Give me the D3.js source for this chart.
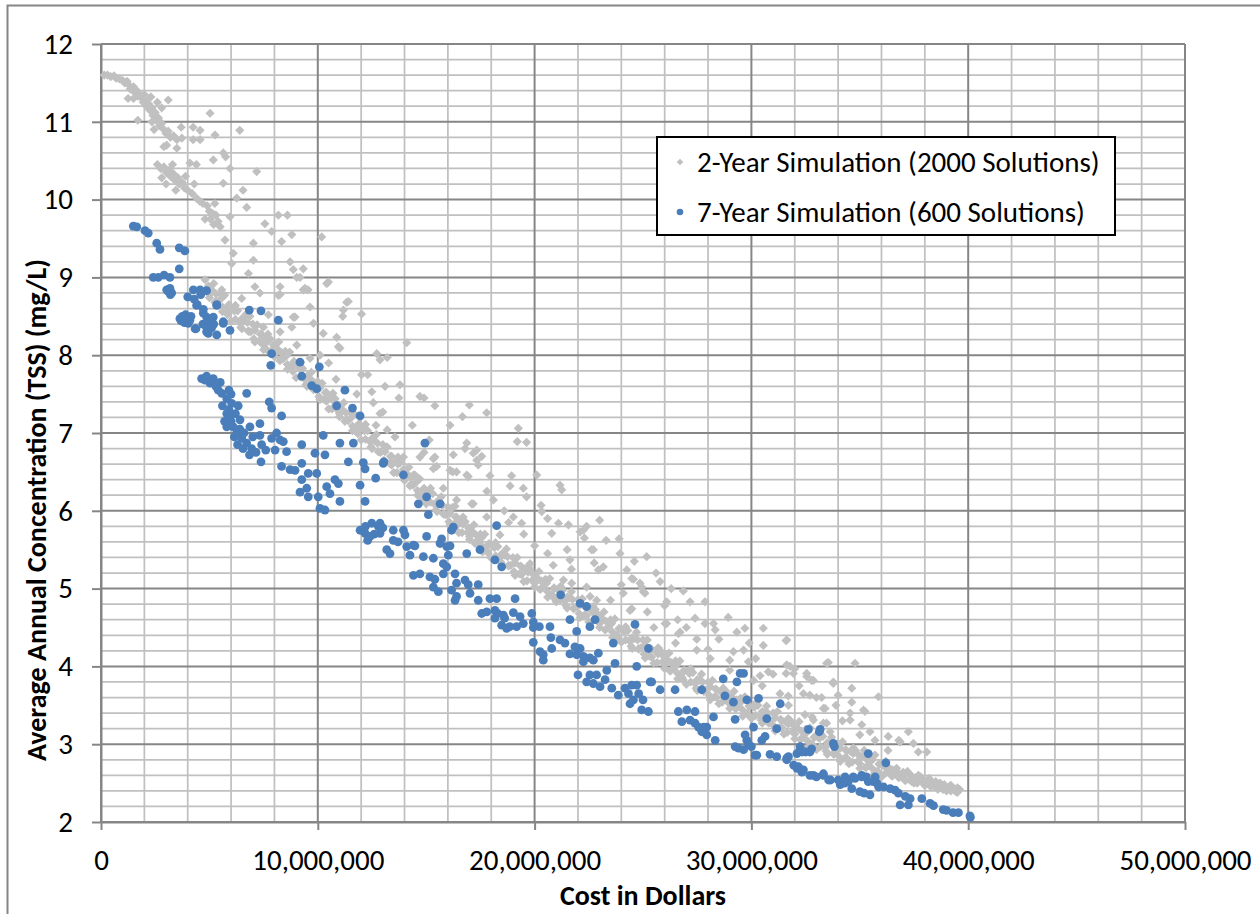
<!DOCTYPE html>
<html>
<head>
<meta charset="utf-8">
<script src="https://cdn.jsdelivr.net/npm/d3@7"></script>
<style>
  body { margin: 0; background: #fff; }
  svg { display: block; }
</style>
</head>
<body>
<svg id="chart" width="1260" height="914"></svg>
<script>
// ---- Axis ticks and labels -------------------------------------------------
const costTicks = [0, 10000000, 20000000, 30000000, 40000000, 50000000];
const concTicks = [2, 3, 4, 5, 6, 7, 8, 9, 10, 11, 12];
const costMinorStep = 2000000;
const concMinorStep = 0.2;
const xTitle = "Cost in Dollars";
const yTitle = "Average Annual Concentration (TSS) (mg/L)";
const seriesNames = ["2-Year Simulation (2000 Solutions)", "7-Year Simulation (600 Solutions)"];

// ---- Solutions: [cost in millions of dollars, concentration mg/L] ---------
// 2-year runs: upper branch near the start of the front
const twoYearHead = [
  [0.15,11.6],[0.3,11.6],[0.45,11.58],[0.6,11.59],[0.7,11.56],[0.85,11.55],[1.0,11.53],[1.1,11.5],[1.2,11.52],[1.3,11.47],
  [1.35,11.42],[1.5,11.45],[1.55,11.38],[1.65,11.4],[1.7,11.33],[1.8,11.35],[1.9,11.3],[1.95,11.25],[2.05,11.28],[2.1,11.2],
  [2.2,11.23],[2.25,11.15],[2.35,11.18],[2.4,11.08],[2.5,11.12],[2.55,11.02],[2.65,11.05],[2.7,10.95],[2.8,10.98],[2.9,10.9],
  [3.0,10.85],[3.1,10.88],[3.2,10.8],[3.35,10.82],[3.5,10.77],[1.25,11.3],[1.7,11.02],[2.35,11.0],[3.1,11.28],[2.0,11.35],
  [2.6,11.25],[1.5,11.3],[2.9,10.68],[3.5,10.66],[3.7,10.93],[3.73,10.79],[4.25,10.93],[4.25,10.77],[4.57,10.89],[4.57,10.77],
  [2.3,11.32],[2.8,11.18],[3.03,10.7],[2.45,10.9],
  [2.6,10.45],[2.75,10.4],[2.9,10.42],[3.0,10.35],[3.15,10.38],[3.2,10.3],[3.35,10.33],[3.4,10.25],[3.55,10.28],[3.6,10.2],
  [3.75,10.22],[3.85,10.15],[4.0,10.12],[3.0,10.2],[3.3,10.45],[2.8,10.28],[4.1,10.47],[4.4,10.45],[4.2,10.08],[4.4,10.02],
  [4.55,9.98],[4.7,9.95],[4.9,9.92],[5.0,9.85],[5.15,9.82],[5.3,9.8],[5.4,9.72],[5.2,9.68],[5.05,9.75],[5.5,9.65],
  [5.95,9.78],[5.64,10.21],[6.26,10.02],[6.55,10.12],[6.72,9.9],[5.95,10.4],[5.18,10.51],[5.64,10.6],[5.75,10.55],[5.03,11.11],
  [5.26,10.83],[6.4,10.89],[7.18,10.36],[7.56,9.69],[7.87,9.59],[8.18,9.8],[8.6,9.8],[8.33,9.46],[8.8,9.55],[10.18,9.52],
  [3.9,10.3],[4.3,10.2],[3.45,10.12],[4.8,9.75],[5.25,9.95]
];

// 2-year runs: main trade-off band
const twoYearBand = [
  [4.8,8.97],[4.9,8.83],[5.0,8.74],[5.1,8.84],[5.2,8.92],[5.3,8.70],[5.4,8.69],[5.5,8.79],[5.6,8.56],[5.7,8.77],
  [5.8,8.56],[5.9,8.65],[6.0,8.44],[6.1,8.59],[6.2,8.64],[6.3,8.57],[6.4,8.43],[6.5,8.34],[6.6,8.45],[6.7,8.53],
  [6.8,8.31],[6.9,8.30],[7.0,8.40],[7.1,8.17],[7.2,8.39],[7.3,8.18],[7.4,8.27],[7.5,8.07],[7.6,8.22],[7.7,8.27],
  [7.8,8.21],[7.9,8.07],[8.0,7.98],[8.1,8.09],[8.2,8.17],[8.3,7.95],[8.4,7.95],[8.5,8.05],[8.6,7.82],[8.7,8.04],
  [8.8,7.83],[8.9,7.92],[9.0,7.71],[9.1,7.86],[9.2,7.91],[9.3,7.83],[9.4,7.69],[9.5,7.60],[9.6,7.70],[9.7,7.78],
  [9.8,7.56],[9.9,7.56],[10.0,7.66],[10.1,7.43],[10.2,7.64],[10.3,7.43],[10.4,7.52],[10.5,7.31],[10.6,7.46],[10.7,7.51],
  [10.8,7.44],[10.9,7.30],[11.0,7.21],[11.1,7.31],[11.2,7.39],[11.3,7.17],[11.4,7.16],[11.5,7.26],[11.6,7.03],[11.7,7.24],
  [11.8,7.03],[11.9,7.12],[12.0,6.91],[12.1,7.06],[12.2,7.11],[12.3,7.03],[12.4,6.89],[12.5,6.80],[12.6,6.90],[12.7,6.98],
  [12.8,6.76],[12.9,6.75],[13.0,6.85],[13.1,6.62],[13.2,6.82],[13.3,6.61],[13.4,6.70],[13.5,6.49],[13.6,6.64],[13.7,6.69],
  [13.8,6.62],[13.9,6.48],[14.0,6.39],[14.1,6.48],[14.2,6.56],[14.3,6.34],[14.4,6.33],[14.5,6.43],[14.6,6.20],[14.7,6.41],
  [14.8,6.20],[14.9,6.29],[15.0,6.09],[15.1,6.24],[15.2,6.29],[15.3,6.22],[15.4,6.08],[15.5,5.99],[15.6,6.10],[15.7,6.18],
  [15.8,5.96],[15.9,5.95],[16.0,6.05],[16.1,5.82],[16.2,6.04],[16.3,5.83],[16.4,5.92],[16.5,5.72],[16.6,5.87],[16.7,5.92],
  [16.8,5.86],[16.9,5.72],[17.0,5.63],[17.1,5.74],[17.2,5.82],[17.3,5.60],[17.4,5.60],[17.5,5.70],[17.6,5.47],[17.7,5.70],
  [17.8,5.49],[17.9,5.58],[18.0,5.39],[18.1,5.54],[18.2,5.59],[18.3,5.54],[18.4,5.40],[18.5,5.31],[18.6,5.43],[18.7,5.51],
  [18.8,5.29],[18.9,5.30],[19.0,5.40],[19.1,5.17],[19.2,5.40],[19.3,5.19],[19.4,5.28],[19.5,5.09],[19.6,5.24],[19.7,5.29],
  [19.8,5.25],[19.9,5.11],[20.0,5.02],[20.1,5.14],[20.2,5.22],[20.3,5.00],[20.4,5.02],[20.5,5.12],[20.6,4.89],[20.7,5.13],
  [20.8,4.92],[20.9,5.01],[21.0,4.83],[21.1,4.98],[21.2,5.03],[21.3,4.98],[21.4,4.84],[21.5,4.75],[21.6,4.88],[21.7,4.96],
  [21.8,4.74],[21.9,4.76],[22.0,4.86],[22.1,4.63],[22.2,4.87],[22.3,4.66],[22.4,4.75],[22.5,4.57],[22.6,4.72],[22.7,4.77],
  [22.8,4.73],[22.9,4.59],[23.0,4.50],[23.1,4.62],[23.2,4.70],[23.3,4.48],[23.4,4.50],[23.5,4.60],[23.6,4.37],[23.7,4.61],
  [23.8,4.40],[23.9,4.49],[24.0,4.31],[24.1,4.46],[24.2,4.51],[24.3,4.46],[24.4,4.32],[24.5,4.23],[24.6,4.36],[24.7,4.44],
  [24.8,4.22],[24.9,4.24],[25.0,4.34],[25.1,4.11],[25.2,4.34],[25.3,4.13],[25.4,4.22],[25.5,4.04],[25.6,4.19],[25.7,4.24],
  [25.8,4.20],[25.9,4.06],[26.0,3.97],[26.1,4.09],[26.2,4.17],[26.3,3.95],[26.4,3.97],[26.5,4.07],[26.6,3.84],[26.7,4.07],
  [26.8,3.86],[26.9,3.95],[27.0,3.77],[27.1,3.92],[27.2,3.97],[27.3,3.92],[27.4,3.78],[27.5,3.69],[27.6,3.82],[27.7,3.90],
  [27.8,3.68],[27.9,3.70],[28.0,3.80],[28.1,3.57],[28.2,3.82],[28.3,3.61],[28.4,3.70],[28.5,3.52],[28.6,3.67],[28.7,3.72],
  [28.8,3.69],[28.9,3.55],[29.0,3.46],[29.1,3.60],[29.2,3.68],[29.3,3.46],[29.4,3.49],[29.5,3.59],[29.6,3.36],[29.7,3.61],
  [29.8,3.40],[29.9,3.49],[30.0,3.33],[30.1,3.48],[30.2,3.53],[30.3,3.50],[30.4,3.36],[30.5,3.27],[30.6,3.41],[30.7,3.49],
  [30.8,3.27],[30.9,3.30],[31.0,3.40],[31.1,3.17],[31.2,3.42],[31.3,3.21],[31.4,3.30],[31.5,3.13],[31.6,3.28],[31.7,3.33],
  [31.8,3.30],[31.9,3.16],[32.0,3.07],[32.1,3.21],[32.2,3.29],[32.3,3.07],[32.4,3.09],[32.5,3.19],[32.6,2.96],[32.7,3.21],
  [32.8,3.00],[32.9,3.09],[33.0,2.93],[33.1,3.08],[33.2,3.13],[33.3,3.10],[33.4,2.96],[33.5,2.87],[33.6,3.01],[33.7,3.09],
  [33.8,2.87],[33.9,2.91],[34.0,3.01],[34.1,2.78],[34.2,3.03],[34.3,2.82],[34.4,2.91],[34.5,2.75],[34.6,2.90],[34.7,2.95],
  [34.8,2.92],[34.9,2.78],[35.0,2.69],[35.1,2.84],[35.2,2.92],[35.3,2.70],[35.4,2.73],[35.5,2.83],[35.6,2.60],[35.7,2.86],
  [35.8,2.65],[35.9,2.74],[36.0,2.58],[36.1,2.73],[36.2,2.78],[36.3,2.71],[36.4,2.64],[36.5,2.59],[36.6,2.66],[36.7,2.69],
  [36.8,2.58],[36.9,2.59],[37.0,2.64],[37.1,2.53],[37.2,2.65],[37.3,2.54],[37.4,2.59],[37.5,2.50],[37.6,2.57],[37.7,2.60],
  [37.8,2.58],[37.9,2.51],[38.0,2.47],[38.1,2.53],[38.2,2.56],[38.3,2.46],[38.4,2.47],[38.5,2.52],[38.6,2.42],[38.7,2.50],
  [38.8,2.43],[38.9,2.46],[39.0,2.40],[39.1,2.45],[39.2,2.47],[39.3,2.44],[39.4,2.40],[39.5,2.38],[39.6,2.42]
];

// 2-year runs: further solutions packed inside the band
const twoYearBandFill = [
  [4.95,8.89],[5.0,8.78],[5.25,8.68],[5.3,8.79],[5.55,8.73],[5.6,8.62],[5.85,8.52],[5.9,8.63],[6.15,8.57],[6.2,8.46],
  [6.45,8.36],[6.5,8.47],[6.75,8.42],[6.8,8.31],[7.05,8.21],[7.1,8.32],[7.35,8.27],[7.4,8.16],[7.65,8.07],[7.7,8.18],
  [7.95,8.13],[8.0,8.02],[8.25,7.93],[8.3,8.04],[8.55,7.99],[8.6,7.88],[8.85,7.79],[8.9,7.90],[9.15,7.83],[9.2,7.72],
  [9.45,7.62],[9.5,7.73],[9.75,7.67],[9.8,7.56],[10.05,7.47],[10.1,7.58],[10.35,7.52],[10.4,7.41],[10.65,7.31],[10.7,7.42],
  [10.95,7.36],[11.0,7.25],[11.25,7.15],[11.3,7.26],[11.55,7.20],[11.6,7.09],[11.85,6.99],[11.9,7.10],[12.15,7.03],[12.2,6.92],
  [12.45,6.82],[12.5,6.93],[12.75,6.87],[12.8,6.76],[13.05,6.65],[13.1,6.76],[13.35,6.70],[13.4,6.59],[13.65,6.49],[13.7,6.60],
  [13.95,6.53],[14.0,6.42],[14.25,6.32],[14.3,6.43],[14.55,6.37],[14.6,6.26],[14.85,6.16],[14.9,6.27],[15.15,6.22],[15.2,6.11],
  [15.45,6.01],[15.5,6.12],[15.75,6.07],[15.8,5.96],[16.05,5.86],[16.1,5.97],[16.35,5.92],[16.4,5.81],[16.65,5.72],[16.7,5.83],
  [16.95,5.78],[17.0,5.67],[17.25,5.58],[17.3,5.69],[17.55,5.65],[17.6,5.54],[17.85,5.46],[17.9,5.57],[18.15,5.53],[18.2,5.42],
  [18.45,5.34],[18.5,5.45],[18.75,5.41],[18.8,5.30],[19.05,5.22],[19.1,5.33],[19.35,5.29],[19.4,5.18],[19.65,5.10],[19.7,5.21],
  [19.95,5.18],[20.0,5.07],[20.25,4.99],[20.3,5.10],[20.55,5.07],[20.6,4.96],[20.85,4.89],[20.9,5.00],[21.15,4.97],[21.2,4.86],
  [21.45,4.78],[21.5,4.89],[21.75,4.86],[21.8,4.75],[22.05,4.68],[22.1,4.79],[22.35,4.76],[22.4,4.65],[22.65,4.58],[22.7,4.69],
  [22.95,4.66],[23.0,4.55],[23.25,4.47],[23.3,4.58],[23.55,4.55],[23.6,4.44],[23.85,4.37],[23.9,4.48],[24.15,4.45],[24.2,4.34],
  [24.45,4.26],[24.5,4.37],[24.75,4.34],[24.8,4.23],[25.05,4.16],[25.1,4.27],[25.35,4.23],[25.4,4.12],[25.65,4.05],[25.7,4.16],
  [25.95,4.13],[26.0,4.02],[26.25,3.94],[26.3,4.05],[26.55,4.02],[26.6,3.91],[26.85,3.83],[26.9,3.94],[27.15,3.91],[27.2,3.80],
  [27.45,3.72],[27.5,3.83],[27.75,3.80],[27.8,3.69],[28.05,3.63],[28.1,3.74],[28.35,3.71],[28.4,3.60],[28.65,3.54],[28.7,3.65],
  [28.95,3.63],[29.0,3.52],[29.25,3.46],[29.3,3.57],[29.55,3.55],[29.6,3.44],[29.85,3.38],[29.9,3.49],[30.15,3.48],[30.2,3.37],
  [30.45,3.31],[30.5,3.42],[30.75,3.40],[30.8,3.29],[31.05,3.23],[31.1,3.34],[31.35,3.32],[31.4,3.21],[31.65,3.15],[31.7,3.26],
  [31.95,3.24],[32.0,3.13],[32.25,3.06],[32.3,3.17],[32.55,3.15],[32.6,3.04],[32.85,2.98],[32.9,3.09],[33.15,3.08],[33.2,2.97],
  [33.45,2.91],[33.5,3.02],[33.75,3.00],[33.8,2.89],[34.05,2.84],[34.1,2.95],[34.35,2.93],[34.4,2.82],[34.65,2.77],[34.7,2.88],
  [34.95,2.86],[35.0,2.75],[35.25,2.70],[35.3,2.81],[35.55,2.79],[35.6,2.68],[35.85,2.64],[35.9,2.75],[36.15,2.71],[36.2,2.63],
  [36.45,2.60],[36.5,2.67],[36.75,2.64],[36.8,2.57],[37.05,2.55],[37.1,2.62],[37.35,2.59],[37.4,2.52],[37.65,2.50],[37.7,2.57],
  [37.95,2.54],[38.0,2.48],[38.25,2.46],[38.3,2.52],[38.55,2.50],[38.6,2.44],[38.85,2.42],[38.9,2.48],[39.15,2.46],[39.2,2.40],
  [39.45,2.39],[39.5,2.44]
];

// 2-year runs: costlier, less efficient solutions above the band
const twoYearSpread = [
  [5.72,9.48],[6.1,9.31],[7.03,9.44],[7.03,9.22],[6.03,9.18],[6.8,9.05],[7.1,8.88],[8.26,8.88],[8.26,8.78],[8.72,9.2],
  [8.87,9.1],[9.03,9.0],[9.33,8.84],[9.55,8.84],[10.49,8.94],[9.33,9.11],[9.18,9.0],[9.41,8.86],[9.64,8.62],[11.33,8.68],
  [11.18,8.58],[11.15,8.5],[12.02,8.53],[11.41,8.69],[10.41,8.92],[8.87,8.49],[10.25,8.28],[10.87,8.23],[9.8,8.41],[8.8,8.36],
  [7.49,8.36],[6.49,8.73],[5.57,8.84],[5.8,8.54],[7.49,8.13],[10.1,8.0],[10.95,8.11],[12.72,8.02],[7.33,8.8],[8.18,8.77],
  [6.87,8.5],[7.72,8.52],[8.95,8.49],[8.26,8.3],[9.03,8.13],[11.02,8.09],[9.64,7.96],[12.87,7.94],[13.2,7.97],[14.1,8.16],
  [12.02,7.75],[12.3,7.75],[10.84,7.69],[13.79,7.62],[13.74,7.45],[12.49,7.53],[14.71,7.47],[14.9,7.45],[15.4,7.35],[16.99,7.36],
  [16.67,7.21],[17.79,7.26],[16.1,7.1],[14.36,7.1],[12.68,7.1],[12.56,7.39],[12.87,7.25],[13.0,7.27],[13.2,7.04],[19.25,7.06],
  [19.2,6.89],[19.63,6.88],[15.14,6.91],[15.4,6.69],[16.25,6.72],[16.79,6.8],[17.17,6.74],[17.56,6.7],[17.4,6.59],[16.22,6.5],
  [17.94,6.45],[18.94,6.45],[20.1,6.46],[14.71,6.69],[14.48,6.46],[15.33,6.54],[13.95,6.69],[13.56,6.95],[13.18,6.82],[17.33,6.78],
  [15.33,6.67],[16.1,6.52],[16.94,6.44],[18.87,6.32],[19.48,6.29],[21.25,6.27],[21.17,6.33],[19.63,6.18],[18.1,6.14],[17.1,6.09],
  [16.33,6.06],[17.79,5.92],[19.02,5.92],[20.33,5.99],[19.4,5.84],[21.1,5.84],[21.56,5.82],[22.1,5.73],[20.79,5.71],[18.4,5.69],
  [22.63,5.50],[23.94,5.45],[25.17,5.41],[21.63,5.37],[19.79,5.32],[20.86,5.30],[23.17,5.28],[24.25,5.24],[21.33,5.11],[21.71,5.07],
  [22.94,5.24],[24.48,5.13],[24.86,5.07],[25.79,5.09],[22.86,4.85],[24.09,4.94],[24.4,4.72],[25.02,4.96],[26.02,4.55],[26.63,4.42],
  [16.87,6.87],[17.33,6.65],[16.87,6.46],[16.4,6.5],[15.48,6.57],[17.17,6.09],[16.4,6.14],[15.79,6.29],[14.41,6.46],[22.25,5.75],
  [22.3,5.65],[22.71,5.50],[22.75,5.33],[24.56,5.12],[24.94,5.02],[22.4,5.02],[22.56,4.90],[25.09,4.94],[24.48,4.74],[26.86,4.97],
  [26.09,4.83],[27.17,4.83],[27.86,4.83],[26.09,4.55],[26.71,4.44],[27.48,4.35],[27.86,4.55],[28.25,4.55],[28.33,4.47],[27.48,4.21],
  [28.93,4.63],[29.64,4.21],[29.17,4.19],[29.33,4.44],[29.7,4.49],[29.86,4.06],[30.55,4.49],[30.55,4.27],[31.63,4.34],[30.78,3.93],
  [30.4,3.88],[30.1,3.82],[31.63,4.02],[31.94,3.91],[32.55,3.91],[32.86,3.82],[33.47,4.04],[33.78,3.80],[31.32,3.65],[31.7,3.62],
  [32.4,3.65],[32.86,3.31],[33.32,3.46],[33.47,3.27],[34.63,3.54],[35.17,3.44],[35.47,3.16],[34.55,3.40],[35.86,3.61],[31.6,4.33],
  [33.55,4.05],[31.78,4.0],[32.0,3.97],[31.6,3.91],[32.55,3.87],[32.78,3.82],[33.78,3.78],[31.71,3.5],[32.7,3.63],[33.24,3.6],
  [34.0,3.63],[33.4,3.46],[34.55,3.31],[35.24,3.42],[35.09,3.25],[36.31,3.10],[36.86,3.03],[37.24,3.16],[37.47,3.01],[37.7,2.90],
  [38.09,2.90],[32.47,3.38],[32.8,3.35],[33.32,3.27],[33.63,3.16],[34.78,4.04],[34.63,3.72],[36.8,3.05],[28.1,4.1],[29.0,3.95],
  [25.5,4.5],[26.5,4.3],[23.5,4.85],[20.0,5.55],[18.8,5.85],[20.6,5.45],[14.9,6.75],[11.8,7.5],[13.1,7.6],[10.5,7.9],
  [20.3,6.07],[20.6,5.9],[23.0,5.88],[22.4,5.8],[23.9,5.64],[23.3,5.62],[24.6,5.35],[25.6,5.2],[26.3,5.0],[26.0,4.78],
  [27.4,4.62],[27.0,4.5],[28.5,4.35],[28.0,4.22],[29.9,4.3],[29.0,4.08],[30.2,4.1],[31.0,3.9],[30.5,3.75],[32.2,3.75],
  [33.0,3.6],[33.9,3.5],[34.2,3.3],[35.0,3.12],[35.7,3.05],[36.3,2.92],[21.5,5.5],[19.5,5.7],[18.6,6.0],[17.8,6.25],
  [21.7,5.25],[24.0,5.05],[25.2,4.7],[26.6,4.6]
];

// 7-year runs
const sevenYearRuns = [
  [1.49,9.66],[1.65,9.65],[2.03,9.6],[2.18,9.57],[2.57,9.44],[2.72,9.36],[3.61,9.38],[3.87,9.34],[3.61,9.11],[2.41,9.0],
  [2.64,9.0],[2.91,9.03],[3.18,9.0],[3.03,8.84],[3.18,8.86],[3.26,8.8],[3.1,8.82],[3.2,8.78],
  [4.0,8.75],[4.26,8.84],[4.57,8.84],[4.87,8.83],[4.44,8.65],[4.72,8.59],[5.34,8.65],[3.8,8.49],[3.95,8.47],[3.64,8.47],
  [4.03,8.41],[4.38,8.34],[4.87,8.49],[5.18,8.49],[4.87,8.36],[4.95,8.28],[5.34,8.26],[5.64,8.43],[5.95,8.32],[6.84,8.58],
  [7.38,8.57],[8.18,8.45],[7.87,8.02],[4.41,8.64],[4.72,8.54],[5.03,8.41],[4.87,8.3],[4.34,8.34],[5.34,8.64],[5.64,8.41],
  [4.1,8.45],[3.75,8.5],[3.7,8.44],[3.85,8.42],[4.15,8.5],[3.9,8.52],[4.6,8.78],[4.3,8.72],[5.1,8.35],[5.2,8.4],[4.7,8.4],
  [7.83,7.87],[9.18,7.91],[9.26,7.73],[9.72,7.61],[9.95,7.57],[10.07,7.85],[11.25,7.55],[10.87,7.35],[11.6,7.32],[11.95,7.22],
  [4.64,7.7],[4.87,7.73],[5.18,7.7],[5.03,7.64],[5.41,7.55],[5.57,7.51],[5.8,7.44],[6.03,7.38],[6.33,7.35],[6.72,7.51],
  [5.8,7.25],[5.95,7.21],[5.8,7.08],[6.1,7.08],[6.41,7.17],[6.26,7.0],[6.49,6.93],[6.72,6.87],[6.95,6.8],[6.87,7.08],
  [7.33,7.12],[7.33,6.97],[7.41,6.85],[7.38,6.63],[7.76,7.4],[7.87,7.32],[8.33,7.22],[7.87,6.93],[8.26,6.91],[8.03,6.78],
  [8.41,6.89],[8.56,6.76],[8.33,6.57],[8.72,6.53],[8.95,6.52],[9.26,6.85],[9.26,6.61],[9.56,6.48],[9.95,6.48],[9.87,6.74],
  [10.33,6.72],[10.25,6.97],[9.26,6.4],[9.18,6.24],[9.49,6.29],[9.56,6.18],[10.02,6.18],[10.41,6.31],[10.79,6.4],[10.95,6.35],
  [10.56,6.22],[11.02,6.12],[10.1,6.03],[10.33,6.01],[11.02,6.87],[11.64,6.87],[11.41,6.63],[12.1,6.62],[12.18,6.54],[11.95,6.33],
  [12.18,6.12],[12.67,6.42],[13.02,6.61],[13.95,6.46],[14.94,6.87],[15.02,6.18],[14.64,6.09],[15.1,5.95],[15.64,6.09],[16.25,5.79],
  [16.17,5.75],[16.87,5.45],[13.05,6.63],[18.25,5.81],
  [5.3,7.6],[5.6,7.35],[5.9,7.3],[6.0,7.15],[6.2,7.25],[5.7,7.15],[6.15,6.95],[6.4,7.05],[6.6,7.0],[6.55,6.8],
  [6.0,7.5],[5.5,7.65],[4.8,7.68],[5.9,7.55],[6.3,6.85],[7.0,6.95],[7.15,6.75],[6.85,6.72],[7.6,6.78],[8.1,7.0],
  [11.95,5.75],[12.18,5.71],[12.49,5.84],[12.79,5.8],[12.41,5.67],[12.87,5.71],[13.48,5.75],[13.95,5.75],[13.48,5.62],[13.18,5.5],
  [13.33,5.45],[14.1,5.54],[14.41,5.56],[14.25,5.43],[15.02,5.67],[14.87,5.41],[15.33,5.39],[15.64,5.58],[15.79,5.32],[15.95,5.54],
  [14.41,5.17],[14.71,5.19],[15.17,5.15],[15.79,5.19],[15.95,5.28],[16.33,5.19],[12.87,5.84],[13.0,5.78],[14.02,5.69],[14.48,5.55],
  [15.71,5.64],[16.1,5.55],[16.02,5.43],[17.48,5.5],[18.17,5.37],[18.48,5.28],[15.4,5.12],[16.4,5.07],[16.79,5.11],[16.94,5.05],
  [17.02,4.94],[17.4,5.05],[15.33,5.02],[15.56,4.96],[16.17,4.98],[16.33,4.85],[16.4,4.9],[17.4,4.85],[17.94,4.87],[18.25,4.87],
  [19.1,4.87],[12.3,5.62],[12.6,5.7],[12.2,5.8],[13.7,5.6],
  [17.56,4.68],[17.79,4.7],[18.17,4.72],[18.3,4.68],[18.17,4.62],[18.56,4.66],[18.62,4.62],[18.48,4.53],[18.71,4.49],[18.85,4.51],
  [19.17,4.51],[19.02,4.69],[19.33,4.64],[19.48,4.55],[19.87,4.68],[19.94,4.57],[19.94,4.5],[20.22,4.51],[20.71,4.51],[19.94,4.31],
  [20.25,4.19],[20.4,4.15],[20.4,4.08],[20.75,4.37],[20.79,4.23],[21.17,4.34],[21.4,4.3],[21.2,4.92],[21.63,4.6],[21.94,4.45],
  [22.1,4.81],[22.4,4.77],[22.79,4.6],[22.55,4.51],[21.86,4.25],[22.1,4.23],[21.63,4.16],[21.94,4.15],[22.25,4.13],[22.55,4.11],
  [22.94,4.17],[22.25,4.06],[22.71,4.08],[23.63,4.3],[23.71,4.04],[24.63,4.54],[24.71,4.0],[25.25,4.23],[22.0,3.89],[22.55,3.89],
  [22.86,3.89],[23.33,3.95],
  [22.4,3.8],[22.71,3.78],[23.02,3.74],[23.25,3.83],[23.56,3.72],[23.86,3.63],[24.17,3.72],[24.48,3.76],[24.71,3.76],[24.33,3.65],
  [24.56,3.57],[24.4,3.52],[24.8,3.65],[25.0,3.57],[24.94,3.44],[25.25,3.42],[25.33,3.8],[25.4,3.8],[25.79,3.7],[26.48,3.7],
  [26.63,3.42],[27.02,3.44],[26.79,3.29],[27.17,3.31],[27.4,3.42],[27.4,3.27],[27.56,3.22],[27.71,3.7],[27.8,3.22],[27.94,3.22],
  [27.71,3.16],[27.94,3.12],[28.33,3.05],[28.25,3.35],[28.7,3.84],[28.78,3.62],[29.25,3.32],[29.17,3.54],[29.33,3.8],[29.48,3.91],
  [29.64,3.91],[29.79,3.57],[30.33,3.59],[30.1,3.22],[30.63,3.1],[30.48,3.05],[30.71,3.33],[29.71,3.12],[29.79,3.05],[29.87,3.0],
  [30.0,2.97],[30.17,2.86],[30.25,2.86],[29.25,2.97],[29.4,2.95],[29.64,2.93],[30.86,2.87],[31.17,2.84],[31.33,3.52],[31.17,3.2],
  [31.71,2.84],[31.63,2.8],[32.1,2.88],[32.25,2.97],[32.33,2.9],[32.17,2.71],[32.4,2.67],[32.63,3.19],[32.7,2.9],[33.17,3.19],
  [32.86,2.6],[33.32,2.6],[33.78,3.01],[33.83,2.97],[34.32,2.58],[34.7,2.58],[35.09,2.58],[35.39,2.88],[35.3,2.58],[33.13,3.16],
  [36.2,2.76],
  [31.63,2.82],[31.95,2.73],[32.25,2.93],[32.5,2.9],[32.78,2.94],[32.1,2.69],[32.33,2.64],[32.7,2.6],[33.0,2.58],[33.32,2.62],
  [33.56,2.54],[33.65,2.54],[34.0,2.54],[34.1,2.48],[34.3,2.5],[34.47,2.52],[34.63,2.43],[34.78,2.56],[35.09,2.6],[35.39,2.52],
  [35.62,2.52],[35.71,2.58],[35.79,2.5],[35.87,2.45],[36.1,2.45],[36.4,2.43],[36.63,2.41],[36.78,2.37],[35.0,2.39],[35.2,2.37],
  [35.47,2.35],[36.86,2.22],[37.24,2.22],[37.1,2.33],[37.32,2.3],[37.86,2.3],[38.24,2.24],[38.4,2.21],[38.85,2.16],[39.0,2.15],
  [39.3,2.12],[39.55,2.12],[40.08,2.08],[40.1,2.06]
];

const twoYearRuns = twoYearHead.concat(twoYearBand, twoYearBandFill, twoYearSpread);
const MILLION = 1e6;

// ---- Layout ---------------------------------------------------------------
const W = 1260, H = 914;
const plot = { left: 101, right: 1185, top: 44, bottom: 822 };
const FONT = "Carlito, Calibri, Lato, 'Open Sans', sans-serif";
const gridMinor = "#c0c0c0", gridMajor = "#868686";
const grayFill = "#c0c0c0", blueFill = "#4a7ebb";

const svg = d3.select("#chart");

svg.append("rect").attr("width", W).attr("height", H).attr("fill", "#fff");
// chart frame
svg.append("rect")
  .attr("x", 7.5).attr("y", 5.5).attr("width", 1300).attr("height", 950)
  .attr("fill", "none").attr("stroke", gridMajor).attr("stroke-width", 2);

const x = d3.scaleLinear().domain([0, 50000000]).range([plot.left, plot.right]);
const y = d3.scaleLinear().domain([2, 12]).range([plot.bottom, plot.top]);

// ---- Gridlines -------------------------------------------------------------
const grid = svg.append("g");
const xMinor = d3.range(0, 50000000 + 1, costMinorStep).filter(v => v % 10000000 !== 0);
const yMinor = d3.range(2, 12.0001, concMinorStep)
  .map(v => Math.round(v * 10) / 10)
  .filter(v => Math.abs(v - Math.round(v)) > 1e-6);

grid.selectAll(".hminor").data(yMinor).join("line")
  .attr("x1", plot.left).attr("x2", plot.right)
  .attr("y1", d => y(d)).attr("y2", d => y(d))
  .attr("stroke", gridMinor).attr("stroke-width", 1.75);
grid.selectAll(".vminor").data(xMinor).join("line")
  .attr("x1", d => x(d)).attr("x2", d => x(d))
  .attr("y1", plot.top).attr("y2", plot.bottom)
  .attr("stroke", gridMinor).attr("stroke-width", 1.75);
grid.selectAll(".hmajor").data(concTicks).join("line")
  .attr("x1", plot.left).attr("x2", plot.right)
  .attr("y1", d => y(d)).attr("y2", d => y(d))
  .attr("stroke", gridMajor).attr("stroke-width", 2);
grid.selectAll(".vmajor").data(costTicks).join("line")
  .attr("x1", d => x(d)).attr("x2", d => x(d))
  .attr("y1", plot.top).attr("y2", plot.bottom)
  .attr("stroke", gridMajor).attr("stroke-width", 2);

// ---- Axes ------------------------------------------------------------------
const xAxis = svg.append("g")
  .attr("transform", `translate(0,${plot.bottom})`)
  .call(d3.axisBottom(x).tickValues(costTicks).tickFormat(d3.format(","))
    .tickSizeInner(8).tickSizeOuter(0).tickPadding(19));
const yAxis = svg.append("g")
  .attr("transform", `translate(${plot.left},0)`)
  .call(d3.axisLeft(y).tickValues(concTicks).tickFormat(d3.format("d"))
    .tickSizeInner(9).tickSizeOuter(0).tickPadding(19));

[xAxis, yAxis].forEach(g => {
  g.select(".domain").attr("stroke", gridMajor).attr("stroke-width", 2);
  g.selectAll(".tick line").attr("stroke", gridMajor).attr("stroke-width", 2);
  g.selectAll(".tick text").attr("fill", "#000")
    .style("font-family", FONT).style("font-size", "29px");
});

// ---- Points ----------------------------------------------------------------
const diamond = d3.symbol().type(d3.symbolSquare).size(42);
svg.append("g").selectAll("path").data(twoYearRuns).join("path")
  .attr("d", diamond)
  .attr("transform", d => `translate(${x(d[0] * MILLION)},${y(d[1])}) rotate(45)`)
  .attr("fill", grayFill);

svg.append("g").selectAll("circle").data(sevenYearRuns).join("circle")
  .attr("cx", d => x(d[0] * MILLION))
  .attr("cy", d => y(d[1]))
  .attr("r", 4.4)
  .attr("fill", blueFill);

// ---- Axis titles -----------------------------------------------------------
svg.append("text")
  .attr("x", (plot.left + plot.right) / 2).attr("y", 905)
  .attr("text-anchor", "middle")
  .style("font-family", FONT).style("font-size", "28px").style("font-weight", "bold")
  .text(xTitle);
svg.append("text")
  .attr("transform", "translate(46,510) rotate(-90)")
  .attr("text-anchor", "middle")
  .style("font-family", FONT).style("font-size", "28px").style("font-weight", "bold")
  .text(yTitle);

// ---- Legend ----------------------------------------------------------------
const legend = svg.append("g");
legend.append("rect")
  .attr("x", 657).attr("y", 137).attr("width", 458).attr("height", 98)
  .attr("fill", "#fff").attr("stroke", "#000").attr("stroke-width", 2);
const rows = legend.selectAll(".row").data(seriesNames).join("g")
  .attr("transform", (d, i) => `translate(680,${162 + i * 50})`);
rows.each(function (d, i) {
  const g = d3.select(this);
  if (i === 0) {
    g.append("path").attr("d", d3.symbol().type(d3.symbolSquare).size(22)())
      .attr("transform", "rotate(45)").attr("fill", grayFill);
  } else {
    g.append("circle").attr("r", 3.3).attr("fill", blueFill);
  }
  g.append("text").attr("x", 17).attr("dy", "0.35em")
    .style("font-family", FONT).style("font-size", "29px").attr("fill", "#000")
    .text(d);
});
</script>
</body>
</html>
